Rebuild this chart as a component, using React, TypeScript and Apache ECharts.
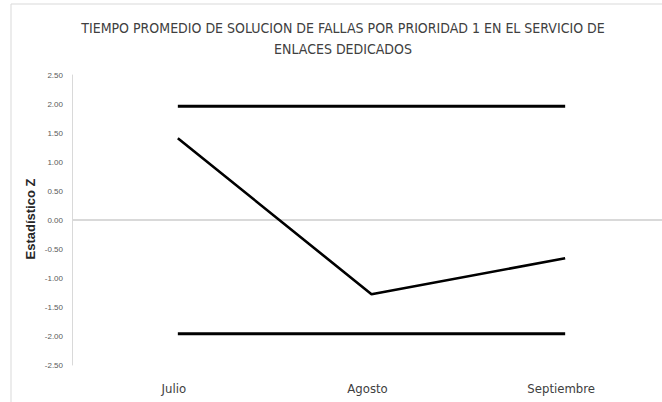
import React, { useEffect, useRef } from "react";
import * as echarts from "echarts";

const categories = ["Julio", "Agosto", "Septiembre"];
const zValues = [1.41, -1.28, -0.66];
const upperLimit = [1.96, 1.96, 1.96];
const lowerLimit = [-1.96, -1.96, -1.96];
const titleLines = [
  "TIEMPO PROMEDIO DE SOLUCION DE FALLAS POR PRIORIDAD 1 EN EL SERVICIO DE",
  "ENLACES DEDICADOS",
];
const yAxisName = "Estadístico Z";

export default function App() {
  const ref = useRef<HTMLDivElement>(null);
  useEffect(() => {
    if (!ref.current) return;
    const chart = echarts.init(ref.current, null, { renderer: "svg" });
    chart.setOption({
      animation: false,
      backgroundColor: "#ffffff",
      title: {
        text: titleLines.join("\n"),
        left: 338,
        textAlign: "center",
        top: 12,
        textStyle: {
          fontFamily: "'DejaVu Sans Condensed', 'Liberation Sans', sans-serif",
          fontSize: 14,
          fontWeight: "normal",
          color: "#404040",
          lineHeight: 21,
        },
      },
      graphic: [
        {
          type: "rect",
          shape: { x: 11, y: 4, width: 700, height: 500 },
          style: { fill: "none", stroke: "#d9d9d9", lineWidth: 1 },
          silent: true,
        },
        {
          type: "line",
          shape: { x1: 72, y1: 220, x2: 82, y2: 220 },
          style: { stroke: "#d9d9d9", lineWidth: 2 },
          silent: true,
        },
        {
          type: "text",
          x: 30,
          y: 219,
          rotation: Math.PI / 2,
          style: {
            text: yAxisName,
            align: "center",
            verticalAlign: "middle",
            fontSize: 13,
            fontWeight: "bold",
            fill: "#262626",
            fontFamily: "'Liberation Sans', Arial, sans-serif",
          },
          silent: true,
        },
      ],
      grid: { left: 81, right: 0, top: 75, height: 290, outerBoundsMode: "none" },
      xAxis: {
        type: "category",
        data: categories,
        boundaryGap: true,
        axisLine: { show: false },
        axisTick: { show: false },
        axisLabel: {
          margin: 17,
          fontSize: 13,
          color: "#404040",
          padding: [0, 8, 0, 0],
          fontFamily: "'DejaVu Sans Condensed', 'Liberation Sans', sans-serif",
        },
      },
      yAxis: {
        type: "value",
        min: -2.5,
        max: 2.5,
        interval: 0.5,
        offset: 9,
        axisLine: { show: true, lineStyle: { color: "#d9d9d9", width: 1 } },
        axisTick: { show: false },
        splitLine: { show: false },
        axisLabel: {
          margin: 9,
          fontSize: 8,
          overflow: "none",
          color: "#595959",
          fontFamily: "'Liberation Sans', Arial, sans-serif",
          formatter: (v: number) => v.toFixed(2),
        },
      },
      series: [
        {
          name: "Z",
          type: "line",
          data: zValues,
          symbol: "none",
          lineStyle: { color: "#000000", width: 2.6 },
          z: 3,
          markLine: {
            silent: true,
            symbol: "none",
            label: { show: false },
            lineStyle: { color: "#d9d9d9", width: 2, type: "solid" },
            data: [{ yAxis: 0 }],
            z: 1,
          },
        },
        {
          name: "Límite superior",
          type: "line",
          data: upperLimit,
          symbol: "none",
          lineStyle: { color: "#000000", width: 3 },
        },
        {
          name: "Límite inferior",
          type: "line",
          data: lowerLimit,
          symbol: "none",
          lineStyle: { color: "#000000", width: 3 },
        },
      ],
    });
    return () => chart.dispose();
  }, []);
  return (
    <div
      ref={ref}
      style={{ position: "fixed", left: 0, top: 0, width: 662, height: 402 }}
    />
  );
}
